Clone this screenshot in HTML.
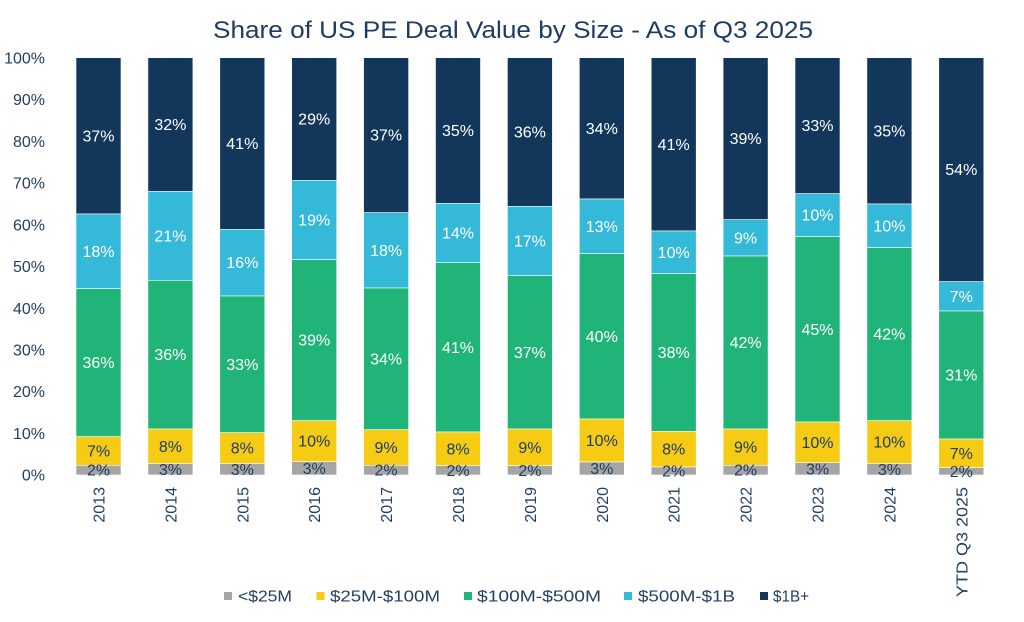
<!DOCTYPE html>
<html><head><meta charset="utf-8"><style>
html,body{margin:0;padding:0;background:#fff;}
svg{display:block;font-family:"Liberation Sans",sans-serif;}
.w{fill:#fff;font-size:16px;text-anchor:middle;}
.d{fill:#1f3d63;font-size:16px;text-anchor:middle;}
.ax{fill:#223f64;font-size:16px;}
rect{stroke:#fff;stroke-width:0.6;}
</style></head><body>
<svg width="1024" height="622" viewBox="0 0 1024 622" xmlns="http://www.w3.org/2000/svg">
<text x="513" y="38" font-size="24" fill="#1e3d64" text-anchor="middle" textLength="600" lengthAdjust="spacingAndGlyphs">Share of US PE Deal Value by Size - As of Q3 2025</text>
<g class="ax" text-anchor="end">
<text x="45" y="63.4">100%</text><text x="45" y="105.1">90%</text><text x="45" y="146.9">80%</text><text x="45" y="188.6">70%</text><text x="45" y="230.3">60%</text><text x="45" y="272.1">50%</text><text x="45" y="313.8">40%</text><text x="45" y="355.5">30%</text><text x="45" y="397.2">20%</text><text x="45" y="439">10%</text><text x="45" y="480.7">0%</text>
</g>
<!-- bars -->
<g>
<!-- 2013 -->
<rect x="76" y="57.7" width="45" height="156.3" fill="#13375b"/><rect x="76" y="214" width="45" height="74.7" fill="#34b9d9"/><rect x="76" y="288.7" width="45" height="148" fill="#21b478"/><rect x="76" y="436.7" width="45" height="28.6" fill="#f5cb14"/><rect x="76" y="465.3" width="45" height="9.7" fill="#a5a5a5"/>
<!-- 2014 -->
<rect x="147.9" y="57.7" width="45" height="133.6" fill="#13375b"/><rect x="147.9" y="191.3" width="45" height="89" fill="#34b9d9"/><rect x="147.9" y="280.3" width="45" height="148.7" fill="#21b478"/><rect x="147.9" y="429" width="45" height="34.7" fill="#f5cb14"/><rect x="147.9" y="463.7" width="45" height="11.3" fill="#a5a5a5"/>
<!-- 2015 -->
<rect x="219.8" y="57.7" width="45" height="171.6" fill="#13375b"/><rect x="219.8" y="229.3" width="45" height="66.7" fill="#34b9d9"/><rect x="219.8" y="296" width="45" height="136.7" fill="#21b478"/><rect x="219.8" y="432.7" width="45" height="31" fill="#f5cb14"/><rect x="219.8" y="463.7" width="45" height="11.3" fill="#a5a5a5"/>
<!-- 2016 -->
<rect x="291.7" y="57.7" width="45" height="122.6" fill="#13375b"/><rect x="291.7" y="180.3" width="45" height="79.4" fill="#34b9d9"/><rect x="291.7" y="259.7" width="45" height="161" fill="#21b478"/><rect x="291.7" y="420.7" width="45" height="41" fill="#f5cb14"/><rect x="291.7" y="461.7" width="45" height="13.3" fill="#a5a5a5"/>
<!-- 2017 -->
<rect x="363.6" y="57.7" width="45" height="155" fill="#13375b"/><rect x="363.6" y="212.7" width="45" height="75.3" fill="#34b9d9"/><rect x="363.6" y="288" width="45" height="141.7" fill="#21b478"/><rect x="363.6" y="429.7" width="45" height="35.6" fill="#f5cb14"/><rect x="363.6" y="465.3" width="45" height="9.7" fill="#a5a5a5"/>
<!-- 2018 -->
<rect x="435.5" y="57.7" width="45" height="145.6" fill="#13375b"/><rect x="435.5" y="203.3" width="45" height="59.4" fill="#34b9d9"/><rect x="435.5" y="262.7" width="45" height="169.3" fill="#21b478"/><rect x="435.5" y="432" width="45" height="33.7" fill="#f5cb14"/><rect x="435.5" y="465.7" width="45" height="9.3" fill="#a5a5a5"/>
<!-- 2019 -->
<rect x="507.4" y="57.7" width="45" height="148.6" fill="#13375b"/><rect x="507.4" y="206.3" width="45" height="69.4" fill="#34b9d9"/><rect x="507.4" y="275.7" width="45" height="153.3" fill="#21b478"/><rect x="507.4" y="429" width="45" height="36.7" fill="#f5cb14"/><rect x="507.4" y="465.7" width="45" height="9.3" fill="#a5a5a5"/>
<!-- 2020 -->
<rect x="579.3" y="57.7" width="45" height="141.3" fill="#13375b"/><rect x="579.3" y="199" width="45" height="54.7" fill="#34b9d9"/><rect x="579.3" y="253.7" width="45" height="165.3" fill="#21b478"/><rect x="579.3" y="419" width="45" height="43" fill="#f5cb14"/><rect x="579.3" y="462" width="45" height="13" fill="#a5a5a5"/>
<!-- 2021 -->
<rect x="651.2" y="57.7" width="45" height="173.3" fill="#13375b"/><rect x="651.2" y="231" width="45" height="42.7" fill="#34b9d9"/><rect x="651.2" y="273.7" width="45" height="157.6" fill="#21b478"/><rect x="651.2" y="431.3" width="45" height="35.7" fill="#f5cb14"/><rect x="651.2" y="467" width="45" height="8" fill="#a5a5a5"/>
<!-- 2022 -->
<rect x="723.1" y="57.7" width="45" height="162" fill="#13375b"/><rect x="723.1" y="219.7" width="45" height="36.3" fill="#34b9d9"/><rect x="723.1" y="256" width="45" height="173" fill="#21b478"/><rect x="723.1" y="429" width="45" height="36.3" fill="#f5cb14"/><rect x="723.1" y="465.3" width="45" height="9.7" fill="#a5a5a5"/>
<!-- 2023 -->
<rect x="795" y="57.7" width="45" height="136" fill="#13375b"/><rect x="795" y="193.7" width="45" height="43" fill="#34b9d9"/><rect x="795" y="236.7" width="45" height="185.3" fill="#21b478"/><rect x="795" y="422" width="45" height="40.7" fill="#f5cb14"/><rect x="795" y="462.7" width="45" height="12.3" fill="#a5a5a5"/>
<!-- 2024 -->
<rect x="866.9" y="57.7" width="45" height="146.3" fill="#13375b"/><rect x="866.9" y="204" width="45" height="43.7" fill="#34b9d9"/><rect x="866.9" y="247.7" width="45" height="173" fill="#21b478"/><rect x="866.9" y="420.7" width="45" height="43" fill="#f5cb14"/><rect x="866.9" y="463.7" width="45" height="11.3" fill="#a5a5a5"/>
<!-- YTD -->
<rect x="938.8" y="57.7" width="45" height="224" fill="#13375b"/><rect x="938.8" y="281.7" width="45" height="29.3" fill="#34b9d9"/><rect x="938.8" y="311" width="45" height="128" fill="#21b478"/><rect x="938.8" y="439" width="45" height="28.7" fill="#f5cb14"/><rect x="938.8" y="467.7" width="45" height="7.3" fill="#a5a5a5"/>
</g>
<!-- labels -->
<g class="w">
<text x="98.5" y="141.4">37%</text><text x="98.5" y="256.9">18%</text><text x="98.5" y="368.2">36%</text>
<text x="170.4" y="130">32%</text><text x="170.4" y="241.3">21%</text><text x="170.4" y="360.2">36%</text>
<text x="242.3" y="149">41%</text><text x="242.3" y="268.2">16%</text><text x="242.3" y="369.9">33%</text>
<text x="314.2" y="124.5">29%</text><text x="314.2" y="225.5">19%</text><text x="314.2" y="345.7">39%</text>
<text x="386.1" y="140.7">37%</text><text x="386.1" y="255.9">18%</text><text x="386.1" y="364.4">34%</text>
<text x="458" y="136">35%</text><text x="458" y="238.5">14%</text><text x="458" y="352.9">41%</text>
<text x="529.9" y="137.5">36%</text><text x="529.9" y="246.5">17%</text><text x="529.9" y="357.9">37%</text>
<text x="601.8" y="133.9">34%</text><text x="601.8" y="231.9">13%</text><text x="601.8" y="341.9">40%</text>
<text x="673.7" y="149.9">41%</text><text x="673.7" y="257.9">10%</text><text x="673.7" y="358">38%</text>
<text x="745.6" y="144.2">39%</text><text x="745.6" y="243.4">9%</text><text x="745.6" y="348">42%</text>
<text x="817.5" y="131.2">33%</text><text x="817.5" y="220.7">10%</text><text x="817.5" y="334.9">45%</text>
<text x="889.4" y="136.4">35%</text><text x="889.4" y="231.4">10%</text><text x="889.4" y="339.7">42%</text>
<text x="961.3" y="175.2">54%</text><text x="961.3" y="301.9">7%</text><text x="961.3" y="380.5">31%</text>
</g>
<g class="d">
<text x="98.5" y="456.5">7%</text><text x="98.5" y="475.7">2%</text>
<text x="170.4" y="451.9">8%</text><text x="170.4" y="474.9">3%</text>
<text x="242.3" y="453.7">8%</text><text x="242.3" y="474.9">3%</text>
<text x="314.2" y="446.7">10%</text><text x="314.2" y="473.9">3%</text>
<text x="386.1" y="453">9%</text><text x="386.1" y="475.7">2%</text>
<text x="458" y="454.4">8%</text><text x="458" y="475.9">2%</text>
<text x="529.9" y="452.9">9%</text><text x="529.9" y="475.9">2%</text>
<text x="601.8" y="446">10%</text><text x="601.8" y="474">3%</text>
<text x="673.7" y="454.7">8%</text><text x="673.7" y="476.5">2%</text>
<text x="745.6" y="452.7">9%</text><text x="745.6" y="475.7">2%</text>
<text x="817.5" y="447.9">10%</text><text x="817.5" y="474.4">3%</text>
<text x="889.4" y="447.7">10%</text><text x="889.4" y="474.9">3%</text>
<text x="961.3" y="458.9">7%</text><text x="961.3" y="476.9">2%</text>
</g>
<!-- x labels -->
<g class="ax" text-anchor="end">
<text transform="translate(104.5,487) rotate(-90)">2013</text>
<text transform="translate(176.4,487) rotate(-90)">2014</text>
<text transform="translate(248.3,487) rotate(-90)">2015</text>
<text transform="translate(320.2,487) rotate(-90)">2016</text>
<text transform="translate(392.1,487) rotate(-90)">2017</text>
<text transform="translate(464,487) rotate(-90)">2018</text>
<text transform="translate(535.9,487) rotate(-90)">2019</text>
<text transform="translate(607.8,487) rotate(-90)">2020</text>
<text transform="translate(679.7,487) rotate(-90)">2021</text>
<text transform="translate(751.6,487) rotate(-90)">2022</text>
<text transform="translate(823.5,487) rotate(-90)">2023</text>
<text transform="translate(895.4,487) rotate(-90)">2024</text>
<text transform="translate(967.3,487) rotate(-90)" textLength="110" lengthAdjust="spacingAndGlyphs">YTD Q3 2025</text>
</g>
<!-- legend -->
<g class="ax">
<rect x="224" y="592" width="8" height="8" fill="#a5a5a5" style="stroke:none"/>
<text x="238" y="601.7" textLength="54" lengthAdjust="spacingAndGlyphs">&lt;$25M</text>
<rect x="316.5" y="592" width="8" height="8" fill="#f5cb14" style="stroke:none"/>
<text x="330" y="601.7" textLength="110" lengthAdjust="spacingAndGlyphs">$25M-$100M</text>
<rect x="464" y="592" width="8" height="8" fill="#21b478" style="stroke:none"/>
<text x="477" y="601.7" textLength="124" lengthAdjust="spacingAndGlyphs">$100M-$500M</text>
<rect x="624" y="592" width="8" height="8" fill="#34b9d9" style="stroke:none"/>
<text x="638" y="601.7" textLength="97" lengthAdjust="spacingAndGlyphs">$500M-$1B</text>
<rect x="760" y="592" width="8" height="8" fill="#13375b" style="stroke:none"/>
<text x="773" y="601.7" textLength="36" lengthAdjust="spacingAndGlyphs">$1B+</text>
</g>
</svg>
</body></html>
